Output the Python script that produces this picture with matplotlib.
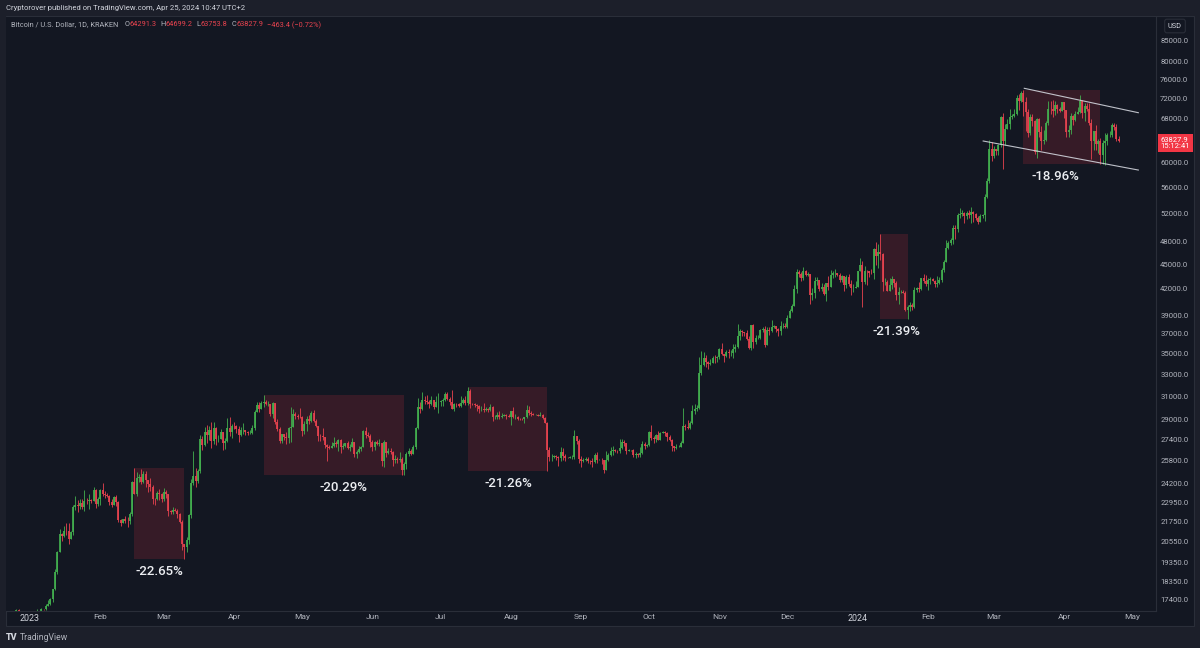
"""
BTC/USD daily candles (Kraken), Dec 2022 - Apr 2024, TradingView dark look.
"""
import matplotlib
matplotlib.use("Agg")

import matplotlib.pyplot as plt
import matplotlib.dates as mdates
import matplotlib.patches as mpatches
import matplotlib.transforms as mtransforms
import numpy as np
import pandas as pd

# ---------------------------------------------------------------------------
# Theme
# ---------------------------------------------------------------------------
_PAGE = "#1c1f2a"
_BG = "#131722"
_BORDER = "#2a2e39"
_FG = "#b2b5be"
_BRIGHT = "#d1d4dc"
_UP = "#43b04f"
_DOWN = "#e8434f"
_TAG = "#f23645"

W, H = 1200, 648

# ---------------------------------------------------------------------------
# Data (prices in thousands of USD, one value per day from FIRST_DAY)
# ---------------------------------------------------------------------------
FIRST_DAY = "2022-12-21"
FIRST_OPEN = 16.90

closes_k = [
    # Dec 2022 (21-31)
    16.82, 16.78, 16.78, 16.84, 16.83, 16.92, 16.70, 16.54, 16.63, 16.60, 16.54,
    # Jan 2023
    16.62, 16.68, 16.67, 16.85, 16.83, 16.95, 16.94, 17.12, 17.18, 17.44,
    17.94, 18.85, 19.93, 20.95, 20.87, 21.17, 21.16, 20.68, 21.07, 22.67,
    22.78, 22.71, 22.92, 22.62, 23.06, 23.01, 23.08, 23.03, 23.77, 22.84, 23.13,
    # Feb
    23.73, 23.49, 23.43, 23.33, 22.94, 22.76, 23.26, 22.96, 21.80, 21.63,
    21.86, 21.79, 21.78, 22.20, 24.33, 23.52, 24.57, 24.63, 24.28, 24.84,
    24.44, 24.19, 23.95, 23.19, 23.16, 23.56, 23.49, 23.13,
    # Mar
    23.64, 23.47, 22.36, 22.35, 22.43, 22.41, 22.20, 21.72, 20.36, 20.19,
    20.63, 22.16, 24.20, 24.74, 24.38, 25.06, 27.42, 26.97, 28.04, 27.77,
    28.17, 27.31, 28.33, 27.49, 27.49, 27.99, 27.14, 27.27, 28.36, 28.03, 28.48,
    # Apr
    28.47, 28.20, 27.80, 28.17, 28.17, 28.04, 27.93, 27.95, 28.34, 29.65,
    30.24, 29.89, 30.40, 30.49, 30.32, 30.32, 29.45, 30.39, 28.82, 28.25,
    27.27, 27.82, 27.59, 27.52, 28.31, 28.42, 29.47, 29.34, 29.25, 29.23,
    # May
    28.09, 28.68, 29.03, 28.85, 29.53, 28.90, 28.45, 27.69, 27.66, 27.62,
    26.99, 26.80, 26.78, 26.93, 27.18, 27.03, 27.40, 26.83, 26.89, 27.11,
    26.75, 26.85, 27.22, 26.33, 26.48, 26.72, 26.87, 28.08, 27.75, 27.70, 27.22,
    # Jun
    26.82, 27.25, 27.07, 27.12, 25.76, 27.24, 26.35, 26.50, 26.48, 25.85,
    25.94, 25.90, 25.92, 25.12, 25.58, 26.33, 26.51, 26.34, 26.85, 28.33,
    30.03, 29.91, 30.70, 30.55, 30.47, 30.27, 30.69, 30.09, 30.45, 30.48,
    # Jul
    30.59, 30.62, 31.16, 30.77, 30.51, 29.90, 30.35, 30.29, 30.17, 30.41,
    30.62, 30.39, 31.47, 30.33, 30.30, 30.25, 30.14, 29.86, 29.91, 29.80,
    29.91, 29.80, 30.08, 29.18, 29.23, 29.35, 29.21, 29.32, 29.36, 29.28, 29.23,
    # Aug
    29.70, 29.18, 29.18, 29.07, 29.06, 29.05, 29.18, 29.77, 29.58, 29.43,
    29.40, 29.42, 29.28, 29.41, 29.17, 28.70, 26.63, 26.05, 26.10, 26.19,
    26.12, 25.99, 26.43, 26.16, 26.04, 26.01, 26.09, 26.10, 27.72, 27.30, 25.93,
    # Sep
    25.80, 25.87, 25.97, 25.81, 25.78, 25.75, 26.24, 25.90, 25.90, 25.84,
    25.16, 25.84, 26.23, 26.54, 26.60, 26.57, 26.53, 26.76, 27.21, 27.13,
    26.57, 26.58, 26.58, 26.26, 26.30, 26.21, 26.35, 27.03, 26.91, 26.97,
    # Oct
    27.99, 27.52, 27.43, 27.79, 27.41, 27.95, 27.97, 27.94, 27.59, 27.39,
    26.88, 26.76, 26.86, 26.86, 27.16, 28.52, 28.42, 28.33, 28.72, 29.68,
    29.92, 29.99, 33.09, 33.90, 34.50, 34.16, 33.91, 34.09, 34.54, 34.49, 34.65,
    # Nov
    35.42, 34.94, 34.73, 35.08, 35.05, 35.05, 35.42, 35.63, 36.70, 37.31,
    37.13, 37.07, 36.49, 35.55, 37.88, 36.16, 36.59, 36.59, 37.39, 37.47,
    35.81, 37.42, 37.29, 37.72, 37.79, 37.48, 37.25, 37.83, 37.86, 37.72,
    # Dec
    38.69, 39.48, 39.98, 41.99, 44.08, 43.78, 43.29, 44.17, 43.73, 43.79,
    41.24, 41.46, 42.89, 43.02, 41.93, 42.26, 41.36, 42.66, 42.27, 43.65,
    43.87, 43.99, 43.72, 43.01, 43.58, 42.52, 43.44, 42.58, 42.07, 42.14, 42.28,
    # Jan 2024
    44.18, 44.95, 42.85, 44.18, 44.16, 43.97, 43.93, 46.97, 46.11, 46.63,
    46.34, 42.78, 42.85, 41.73, 42.51, 43.14, 42.74, 41.26, 41.62, 41.66,
    41.55, 39.51, 39.85, 40.08, 39.93, 41.81, 42.12, 42.03, 43.30, 42.94, 42.58,
    # Feb
    43.08, 43.19, 42.99, 42.58, 42.66, 43.09, 44.34, 45.29, 47.13, 47.77,
    48.29, 49.96, 49.70, 51.80, 51.91, 52.13, 51.66, 52.12, 51.78, 52.26,
    51.85, 51.32, 50.74, 51.57, 51.73, 54.48, 57.05, 62.43, 61.17,
    # Mar
    62.39, 62.03, 63.13, 68.33, 63.80, 66.10, 66.93, 68.30, 68.50, 69.00,
    72.10, 71.45, 73.10, 71.40, 69.40, 65.30, 68.40, 67.60, 61.90, 67.90,
    65.50, 63.80, 64.10, 67.20, 70.00, 69.90, 69.50, 70.80, 69.90, 69.60, 71.30,
    # Apr (1-25)
    69.70, 65.50, 65.90, 68.50, 67.80, 68.90, 69.40, 71.60, 69.10, 70.60,
    70.00, 67.10, 63.90, 65.70, 63.40, 63.80, 61.30, 63.50, 63.80, 64.90,
    64.90, 66.80, 66.40, 64.29, 63.83,
]

highs_k = [
    16.87, 16.86, 16.87, 16.86, 16.87, 16.94, 16.96, 16.78, 16.66, 16.65, 16.63,
    16.63, 16.76, 16.77, 16.98, 16.88, 16.99, 16.98, 17.18, 17.39, 17.50,
    17.97, 19.00, 19.99, 21.26, 21.05, 21.45, 21.62, 21.65, 21.18, 22.76,
    23.37, 23.08, 23.16, 23.18, 23.77, 23.25, 23.49, 23.18, 23.95, 23.80, 23.31,
    23.80, 24.23, 23.72, 23.57, 23.43, 23.15, 23.33, 23.44, 23.00, 21.90,
    21.89, 22.06, 21.99, 22.30, 24.36, 25.27, 25.02, 24.88, 25.19, 25.09,
    25.10, 24.47, 24.60, 24.13, 23.21, 23.66, 23.85, 23.58,
    23.88, 23.78, 23.48, 22.44, 22.62, 22.60, 22.53, 22.26, 21.82, 20.30,
    20.81, 22.17, 24.51, 26.53, 25.27, 25.24, 27.76, 27.72, 28.43, 28.53,
    28.48, 28.77, 28.79, 28.38, 27.78, 28.21, 28.04, 27.50, 29.15, 29.18, 28.64,
    28.81, 28.53, 28.49, 28.44, 28.75, 28.18, 28.11, 28.18, 28.53, 29.77,
    30.46, 30.51, 30.60, 31.10, 30.62, 30.55, 30.31, 30.47, 30.40, 29.08,
    28.38, 27.88, 27.81, 28.00, 28.40, 30.02, 29.88, 29.60, 29.43, 29.95,
    29.30, 28.88, 29.26, 29.37, 29.69, 29.84, 29.02, 28.48, 27.84, 28.33,
    27.63, 27.06, 26.99, 27.19, 27.63, 27.28, 27.47, 27.47, 27.16, 27.15,
    27.27, 27.04, 27.50, 27.22, 26.60, 26.91, 26.90, 28.17, 28.44, 28.03, 27.83,
    27.35, 27.30, 27.34, 27.44, 27.13, 27.36, 27.13, 26.79, 26.78, 26.54,
    26.21, 26.08, 26.43, 26.09, 25.75, 26.47, 26.77, 26.70, 26.98, 28.40,
    30.80, 30.49, 31.38, 31.03, 31.06, 30.65, 31.00, 30.70, 31.04, 31.28,
    30.66, 30.79, 31.38, 31.33, 30.88, 31.50, 30.44, 30.38, 30.43, 31.05,
    30.80, 30.98, 31.81, 31.63, 30.40, 30.44, 30.34, 30.25, 30.18, 30.40,
    30.05, 29.99, 30.34, 30.10, 29.37, 29.67, 29.68, 29.53, 29.44, 29.44, 29.50,
    29.74, 30.05, 29.43, 29.31, 29.10, 29.17, 29.24, 30.19, 30.13, 29.70,
    29.55, 29.47, 29.45, 29.66, 29.47, 29.23, 28.77, 26.82, 26.30, 26.27,
    26.25, 26.15, 26.80, 26.79, 26.30, 26.11, 26.17, 26.21, 28.14, 27.58, 27.46,
    26.14, 25.98, 26.11, 26.08, 25.87, 26.01, 26.41, 26.43, 25.93, 25.99,
    25.88, 26.52, 26.39, 26.80, 26.88, 26.67, 26.62, 27.42, 27.48, 27.36,
    27.15, 26.72, 26.63, 26.72, 26.43, 26.39, 26.81, 27.29, 27.21, 27.09,
    28.07, 28.58, 27.65, 27.82, 28.12, 28.02, 28.05, 28.10, 27.99, 27.73,
    27.48, 26.93, 27.05, 26.97, 27.29, 30.00, 28.61, 28.97, 28.90, 30.21,
    30.32, 30.19, 34.60, 35.20, 35.11, 34.82, 34.21, 34.45, 34.73, 34.80, 34.70,
    35.57, 35.98, 34.96, 35.30, 35.38, 35.28, 35.89, 35.97, 37.97, 37.52,
    37.41, 37.22, 37.43, 36.73, 37.96, 37.97, 36.82, 36.86, 37.52, 37.74,
    37.86, 37.65, 37.67, 38.42, 37.90, 37.80, 37.58, 38.38, 38.17, 38.15,
    38.95, 39.70, 40.21, 42.43, 44.41, 44.29, 44.04, 44.71, 44.36, 44.05,
    43.80, 42.09, 43.43, 43.40, 43.08, 42.73, 42.58, 42.75, 43.50, 44.28,
    44.21, 44.37, 43.95, 43.96, 43.70, 43.60, 43.68, 43.82, 43.10, 42.60, 42.89,
    44.21, 45.87, 45.50, 44.77, 44.33, 44.19, 44.48, 47.22, 47.90, 47.70,
    49.05, 46.49, 43.26, 43.07, 43.33, 43.57, 43.19, 42.93, 42.18, 41.86,
    41.89, 41.70, 40.14, 40.50, 40.30, 42.21, 42.20, 42.80, 43.32, 43.84, 43.74,
    43.29, 43.42, 43.37, 43.12, 43.53, 43.40, 44.53, 45.60, 48.17, 48.15,
    48.57, 50.36, 50.33, 52.04, 52.82, 52.57, 52.20, 52.36, 52.48, 52.96,
    52.37, 52.00, 51.68, 51.96, 51.95, 54.91, 57.57, 64.00, 63.68,
    62.90, 62.50, 63.30, 68.50, 69.10, 67.00, 67.95, 69.98, 68.90, 69.90,
    72.80, 72.90, 73.65, 73.80, 72.40, 70.00, 68.90, 68.90, 67.80, 68.10,
    68.10, 66.60, 65.90, 67.60, 71.50, 71.60, 71.70, 71.50, 70.90, 70.30, 71.40,
    71.40, 69.60, 66.90, 69.20, 68.70, 69.60, 70.30, 72.70, 71.70, 71.10,
    71.20, 71.20, 67.90, 65.70, 66.80, 64.30, 64.40, 64.00, 65.30, 65.30,
    65.70, 67.20, 67.20, 67.00, 64.70,
]

lows_k = [
    16.74, 16.58, 16.76, 16.78, 16.74, 16.79, 16.59, 16.47, 16.49, 16.34, 16.50,
    16.50, 16.55, 16.61, 16.66, 16.75, 16.76, 16.91, 16.91, 17.10, 17.14,
    17.31, 17.89, 18.73, 19.92, 20.58, 20.82, 20.92, 20.41, 20.66, 20.93,
    22.43, 22.33, 22.50, 22.53, 22.36, 22.86, 22.54, 22.91, 23.02, 22.57, 22.72,
    22.77, 23.39, 23.22, 23.27, 22.76, 22.63, 22.75, 22.68, 21.70, 21.47,
    21.63, 21.64, 21.38, 21.55, 22.08, 23.48, 23.36, 24.31, 24.18, 24.23,
    23.98, 23.61, 23.68, 22.84, 22.78, 23.09, 23.12, 22.97,
    23.00, 23.21, 22.05, 22.21, 22.19, 22.36, 21.95, 21.61, 20.05, 19.55,
    19.91, 20.40, 21.92, 24.13, 23.99, 24.23, 24.93, 26.61, 26.92, 27.17,
    27.40, 26.76, 27.03, 27.00, 27.20, 27.44, 26.58, 26.67, 27.24, 27.72, 27.55,
    28.23, 27.89, 27.23, 27.65, 27.82, 27.76, 27.77, 27.87, 27.83, 28.17,
    29.62, 29.66, 29.85, 30.05, 30.21, 30.12, 29.28, 29.13, 28.61, 28.05,
    27.15, 27.13, 27.34, 27.03, 27.18, 27.24, 28.38, 29.05, 29.06, 29.10,
    27.68, 27.88, 28.12, 28.67, 28.80, 28.83, 28.41, 27.30, 27.33, 27.37,
    26.78, 25.81, 26.70, 26.86, 26.84, 26.85, 26.56, 26.42, 26.65, 26.86,
    26.67, 26.54, 26.81, 26.11, 26.01, 26.40, 26.57, 26.85, 27.55, 27.57, 26.85,
    26.53, 26.59, 26.96, 26.95, 25.40, 25.35, 26.12, 26.33, 26.29, 25.40,
    25.65, 25.63, 25.75, 24.82, 24.80, 25.18, 26.18, 26.27, 26.30, 26.65,
    28.27, 29.55, 29.83, 30.27, 30.29, 29.95, 30.21, 29.87, 30.04, 29.55,
    30.18, 30.17, 30.55, 30.65, 30.23, 29.85, 29.73, 30.05, 30.05, 30.07,
    30.32, 30.25, 30.24, 29.96, 30.25, 30.09, 29.69, 29.54, 29.75, 29.60,
    29.73, 29.64, 29.75, 28.88, 29.05, 29.09, 29.09, 29.14, 29.27, 29.08, 29.18,
    28.60, 29.10, 29.05, 28.97, 29.00, 28.97, 28.73, 29.14, 29.41, 29.32,
    29.35, 29.37, 29.26, 29.27, 29.07, 28.70, 25.05, 25.80, 25.80, 26.00,
    25.90, 25.40, 25.81, 25.88, 25.78, 25.99, 26.01, 25.97, 25.97, 27.05, 25.67,
    25.34, 25.73, 25.78, 25.63, 25.56, 25.37, 25.68, 25.68, 25.83, 25.59,
    24.93, 25.11, 25.76, 26.13, 26.22, 26.48, 26.41, 26.38, 26.67, 26.91,
    26.34, 26.50, 26.53, 26.11, 26.02, 26.12, 26.09, 26.30, 26.70, 26.87,
    26.95, 27.40, 27.18, 27.24, 27.35, 27.35, 27.89, 27.70, 27.30, 27.33,
    26.56, 26.57, 26.72, 26.80, 26.81, 27.14, 28.15, 28.20, 28.26, 28.63,
    29.45, 29.70, 29.87, 32.89, 33.80, 33.70, 33.45, 33.85, 34.03, 34.05, 34.12,
    34.39, 34.81, 34.11, 34.59, 34.55, 34.74, 34.55, 35.11, 35.50, 36.35,
    36.73, 36.76, 36.30, 35.40, 35.37, 35.55, 35.97, 36.39, 36.42, 37.16,
    35.65, 35.80, 36.89, 37.19, 37.61, 37.17, 36.73, 36.87, 37.62, 37.58,
    37.61, 38.65, 39.30, 39.97, 41.49, 43.39, 42.91, 43.10, 43.58, 43.57,
    40.23, 40.69, 40.98, 42.44, 41.71, 41.70, 41.27, 40.53, 41.83, 42.22,
    43.28, 43.42, 43.61, 42.77, 42.80, 41.72, 42.10, 42.32, 41.30, 41.60, 42.08,
    42.19, 44.18, 39.90, 42.62, 42.50, 43.44, 43.80, 43.21, 44.91, 44.55,
    45.63, 41.79, 42.44, 41.73, 41.72, 42.03, 42.20, 40.68, 40.28, 41.47,
    41.48, 39.44, 38.56, 39.49, 39.55, 39.83, 41.64, 41.67, 41.82, 42.68, 42.30,
    41.89, 42.57, 42.89, 42.24, 42.26, 42.57, 42.80, 44.02, 45.27, 46.99,
    47.55, 47.73, 48.37, 49.38, 51.32, 51.60, 50.63, 51.16, 51.35, 50.65,
    50.80, 50.98, 50.53, 50.93, 51.29, 50.90, 54.40, 56.70, 60.35,
    60.80, 61.30, 61.30, 62.80, 59.00, 63.20, 66.10, 66.00, 68.00, 68.30,
    68.70, 69.80, 71.40, 68.60, 65.60, 64.60, 64.90, 66.60, 61.50, 60.80,
    64.50, 62.30, 63.30, 63.90, 66.80, 69.00, 68.30, 68.80, 69.10, 69.40, 69.50,
    68.10, 64.50, 64.50, 65.10, 66.80, 67.50, 68.90, 69.20, 68.20, 67.50,
    69.60, 66.90, 60.70, 62.20, 62.30, 61.70, 59.81, 59.80, 59.60, 63.10,
    64.50, 64.50, 65.90, 63.80, 63.75,
]

# Drawdown boxes (high -> low) and their labels
box_start = ["2023-02-16", "2023-04-14", "2023-07-13", "2024-01-11", "2024-03-14"]
box_end = ["2023-03-10", "2023-06-15", "2023-08-17", "2024-01-23", "2024-04-17"]
box_top = [25270, 31110, 31810, 49050, 73800]
box_bottom = [19550, 24800, 25050, 38560, 59810]
box_labels = ["-22.65%", "-20.29%", "-21.26%", "-21.39%", "-18.96%"]
label_dates = ["2023-02-27", "2023-05-19", "2023-07-31", "2024-01-18", "2024-03-28"]

# Descending channel drawn over the 2024 range
upper_dates = ["2024-03-14 10:00", "2024-05-03 17:00"]
upper_prices = [74130, 69180]
lower_dates = ["2024-02-25 07:00", "2024-05-03 17:00"]
lower_prices = [63850, 58810]

y_ticks = [17400, 18350, 19350, 20550, 21750, 22950, 24200, 25800, 27400,
           29000, 31000, 33000, 35000, 37000, 39000, 42000, 45000, 48000,
           52000, 56000, 60000, 68000, 72000, 76000, 80000, 85000]

legend_pieces = [
    ("Bitcoin / U.S. Dollar, 1D, KRAKEN", _FG, 6),
    ("O", _FG, 0), ("64291.3", _DOWN, 4),
    ("H", _FG, 0), ("64699.2", _DOWN, 4),
    ("L", _FG, 0), ("63753.8", _DOWN, 4),
    ("C", _FG, 0), ("63827.9", _DOWN, 4),
    ("\u2212463.4 (\u22120.72%)", _DOWN, 0),
]

plt.rcParams["font.family"] = ["Roboto", "DejaVu Sans"]


def px(x, y):
    """Pixel position (top-left origin) -> figure fraction."""
    return x / W, 1 - y / H


def text_run(fig, x, y, pieces, size):
    """Write coloured text pieces one after another on a line."""
    renderer = fig.canvas.get_renderer()
    fx, fy = px(x, y)
    for s, color, gap in pieces:
        t = fig.text(fx, fy, s, color=color, fontsize=size, ha="left", va="center")
        fx += (t.get_window_extent(renderer=renderer).width + gap) / W


# ---------------------------------------------------------------------------
# Build candles
# ---------------------------------------------------------------------------
n = min(len(closes_k), len(highs_k), len(lows_k))
if not (len(closes_k) == len(highs_k) == len(lows_k)):
    print("length mismatch", len(closes_k), len(highs_k), len(lows_k))

dates = pd.date_range(FIRST_DAY, periods=n, freq="D")
x = mdates.date2num(dates)
c = np.array(closes_k[:n]) * 1000
o = np.concatenate([[FIRST_OPEN * 1000], c[:-1]])
hi = np.maximum(np.array(highs_k[:n]) * 1000, np.maximum(o, c))
lo = np.minimum(np.array(lows_k[:n]) * 1000, np.minimum(o, c))
colors = np.where(c >= o, _UP, _DOWN)

# ---------------------------------------------------------------------------
# Figure
# ---------------------------------------------------------------------------
fig = plt.figure(figsize=(W / 100, H / 100), dpi=100)
fig.set_facecolor(_PAGE)

# widget panel
x0, y0 = px(6, 626)
x1, y1 = px(1194, 16)
fig.add_artist(mpatches.Rectangle((x0, y0), x1 - x0, y1 - y0, transform=fig.transFigure,
                                  facecolor=_BG, edgecolor=_BORDER, linewidth=0.8, zorder=0))

ax_l, ax_b = px(6, 611)
ax_r, ax_t = px(1156, 16.7)
ax = fig.add_axes([ax_l, ax_b, ax_r - ax_l, ax_t - ax_b])
ax.set_facecolor(_BG)

ax.set_yscale("log")
ax.set_ylim(16864, 90800)
ax.set_xlim(mdates.date2num(pd.Timestamp("2022-12-21 09:30")),
            mdates.date2num(pd.Timestamp("2024-05-11 12:00")))

# drawdown boxes
for s, e, top, bot in zip(box_start, box_end, box_top, box_bottom):
    xs = mdates.date2num(pd.Timestamp(s))
    xe = mdates.date2num(pd.Timestamp(e))
    ax.add_patch(mpatches.Rectangle((xs, bot), xe - xs, top - bot,
                                    facecolor=_TAG, alpha=0.16, edgecolor="none", zorder=1))

# candles
ax.vlines(x, lo, hi, colors=colors, linewidth=0.6, zorder=2)
ax.vlines(x, np.minimum(o, c), np.maximum(o, c), colors=colors, linewidth=1.25,
          zorder=2, capstyle="butt")

# channel
ax.plot(mdates.date2num(pd.to_datetime(upper_dates)), upper_prices,
        color=_BRIGHT, linewidth=0.8, alpha=0.9, zorder=3)
ax.plot(mdates.date2num(pd.to_datetime(lower_dates)), lower_prices,
        color=_BRIGHT, linewidth=0.8, alpha=0.9, zorder=3)

# percentage labels
for d, bot, lab in zip(label_dates, box_bottom, box_labels):
    ax.annotate(lab, xy=(mdates.date2num(pd.Timestamp(d)), bot), xytext=(0, -9),
                textcoords="offset points", ha="center", va="center",
                fontsize=9.5, fontweight="medium", color="#eceef2", zorder=4)

# axes styling
for side in ("top", "left"):
    ax.spines[side].set_visible(False)
for side in ("right", "bottom"):
    ax.spines[side].set_color(_BORDER)
    ax.spines[side].set_linewidth(0.8)

ax.yaxis.tick_right()
ax.set_yticks(y_ticks)
ax.set_yticklabels([f"{v:.1f}" for v in y_ticks])
ax.yaxis.set_minor_locator(matplotlib.ticker.NullLocator())
ax.tick_params(axis="y", length=0, pad=3, labelsize=5.6, labelcolor=_FG)

month_ticks = pd.date_range("2023-01-01", "2024-05-01", freq="MS")
ax.set_xticks(mdates.date2num(month_ticks))
ax.set_xticklabels([d.strftime("%Y") if d.month == 1 else d.strftime("%b") for d in month_ticks])
ax.tick_params(axis="x", length=0, pad=2.3, labelsize=6, labelcolor=_FG)
for t, d in zip(ax.get_xticklabels(), month_ticks):
    if d.month == 1:
        t.set_color(_BRIGHT)
        t.set_fontsize(6.4)

# last price tag
blend = mtransforms.blended_transform_factory(ax.transAxes, ax.transData)
ax.annotate("63827.9\n15:12:41", xy=(1.0, c[-1]), xycoords=blend, xytext=(3.2, 3.2),
            textcoords="offset points", ha="left", va="top", fontsize=5.5,
            color="white", linespacing=1.05, annotation_clip=False, zorder=6,
            bbox=dict(boxstyle="square,pad=0.35", facecolor=_TAG, edgecolor="none"))

# header / legend / footer texts
fig.text(*px(6, 8), "Cryptorover published on TradingView.com, Apr 25, 2024 10:47 UTC+2",
         color=_BRIGHT, fontsize=5.5, ha="left", va="center")
text_run(fig, 11, 25, legend_pieces, 5.3)
fig.text(*px(1175, 26), "USD", color=_BRIGHT, fontsize=5.3, ha="center", va="center",
         bbox=dict(boxstyle="round,pad=0.45,rounding_size=0.3", facecolor=_BG,
                   edgecolor=_BORDER, linewidth=0.8))
fig.text(*px(6, 638), "TV", color=_BRIGHT, fontsize=6.5, fontweight="heavy",
         ha="left", va="center")
fig.text(*px(20, 638), "TradingView", color=_FG, fontsize=6.2, ha="left", va="center")

fig.savefig("out.png", dpi=100, facecolor=fig.get_facecolor())
